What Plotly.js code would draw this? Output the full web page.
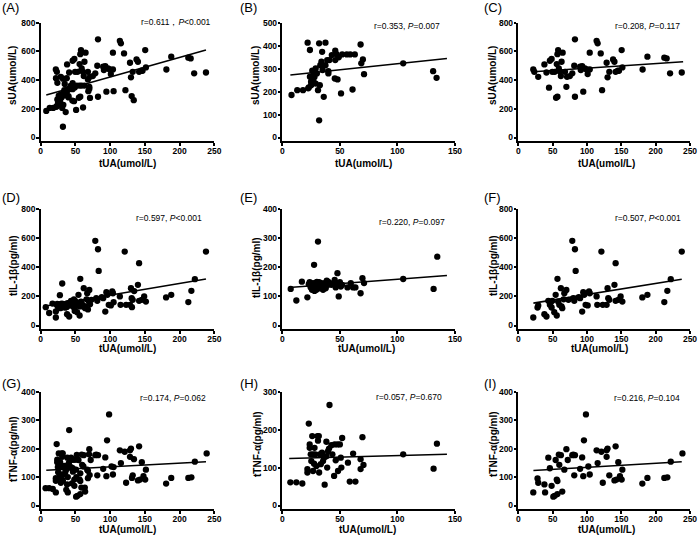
<!DOCTYPE html>
<html><head><meta charset="utf-8">
<script src="https://cdn.plot.ly/plotly-3.0.1.min.js"></script>
<style>html,body{margin:0;padding:0;background:#fff}#chart{width:700px;height:537px}</style>
</head><body><div id="chart"></div>
<script>
// ---- Data ----
// Group 1 (panels B, E, H)
const tUA_B = [8,13,18,22,24,23,22.5,24,25,26,27,27.4,28,29,30,31,32,32,32.6,33,34,34.6,36,37.5,37.5,39,40,41,40,45.6,46,47,48,49,51,52,56,59,61,63,68,68.6,70,71,105,131,134,35,29,25,46,43];
const sUA_B = [185,206,206,413,381,218,214,265,243,291,250,279,265,301,279,206,410,75,228,315,330,373,177,413,315,337,289,337,279,257,337,363,253,349,192,362,362,362,209,362,405,323,340,276,323,289,260,294,235,228,378,359];
const tUA_E = [7.3,12.2,17,21.8,23,23.8,24.7,25.8,26.7,27.6,28,29,29.6,31,31,32,32.5,33.4,34,35.4,36.3,36.8,37.7,38.6,39.7,41,42.6,45.5,46.4,47.9,48.4,49,50,50.8,52,56.6,59.5,61.5,63.5,68,69.6,71,105,131.4,134.6,44.4,26,30,34,40,27,35];
const IL_E = [126,86,151,97,142,149,131,123,146,209,119,134,123,289,142,149,128,138,146,123,134,146,128,154,140,146,140,157,131,180,146,100,149,134,140,131,146,131,131,111,163,146,160,126,237,146,135,150,130,150,140,138];
const tUA_H = [7,12.2,17.4,23,21.8,21.8,23.8,23.8,24.7,25.2,26,26.7,26.7,27.6,28,28.7,29.6,30.6,31,31.7,32,32.5,33.4,34.5,35.4,36.3,36.8,38.3,38.3,39,39.7,40.6,41,42.6,43.5,45,45.5,46.4,48,48.4,50,50.8,51.3,52,57,58.6,61.5,63.5,68,68,69.6,70.5,105,131.4,134.3];
const TNF_H = [61,61,58,216,87,96,161,152,135,117,183,135,91,110,152,135,104,183,171,183,87,135,109,139,117,126,55,130,168,100,143,150,265,159,135,78,161,119,161,91,161,126,100,178,113,63,137,63,122,96,180,107,135,97,163];
// Group 2 (panels C, F, I)
const tUA_C = [21.8,23.3,29,38,41,44.7,46,48.5,49.5,53,56,57,58,60.7,59,55,57,62,63,64.6,68,71,70,75,78.6,82.5,81.5,82.5,90,91,93,94.6,97,99.5,101,104,104,114,115.5,120,122,128.6,130,132.5,138,140,141.7,145,146.6,150.5,151.5,181,188,212.6,216,221,238];
const sUA_C = [474,458,423,509,453,347,535,547,458,458,512,581,609,458,481,277,284,428,528,591,458,423,353,428,447,684,500,284,493,470,498,319,481,474,442,591,474,674,656,586,330,521,419,458,544,528,458,465,465,609,488,474,563,556,551,447,453];
const tUA_F = [21.8,28,29,38,41,43.7,46,48.5,49.5,52.4,54.4,56,57,58,59.7,62,63,64,67,70,73,78.6,80,81.5,82.5,83.5,90,93,94.6,96,98,101,103,104,114,115,121,123,128.6,130,131,132.5,140,141.7,141.7,145.6,149,151.5,180.6,188,212.6,217,222,238,66,47,88];
const IL_F = [55,124,138,78,62,170,142,124,170,92,211,69,321,165,142,257,131,119,222,245,177,583,188,170,525,376,188,96,229,211,142,138,234,222,200,142,509,142,142,257,188,177,280,429,170,177,200,165,193,211,161,239,319,509,180,158,195];
const tUA_I = [21.8,28,29,38,39,43.7,46,48.5,51,53,54.4,56,57,57,59,59.7,62,64,67,70,72,78.6,80,81.5,82.5,90,93,94.6,95.6,98.5,102,104,114,115.5,121,123,128.6,128.6,130,132.5,140,141.7,143,145.6,148,151.5,150.5,180.6,188,212.6,217,222,239];
const TNF_I = [46,95,80,74,46,168,131,69,31,34,160,91,86,40,179,143,177,49,126,198,160,177,179,106,177,129,169,103,229,320,137,109,194,149,189,80,194,171,200,106,88,208,91,152,103,126,91,77,97,97,99,154,183];
// Fitted regression lines (end points)
const fitA_x = [8,238], fitA_y = [296,610];
const fitB_x = [7,143], fitB_y = [272,344];
const fitC_x = [22,240], fitC_y = [458,528];
const fitD_x = [5,238], fitD_y = [133,320];
const fitE_x = [6,143], fitE_y = [131,172];
const fitF_x = [22,238], fitF_y = [154,319];
const fitG_x = [8,238], fitG_y = [124,154];
const fitH_x = [6,143], fitH_y = [124,135];
const fitI_x = [22,238], fitI_y = [123,154];
// Labels
const panelLabels = ['(A)','(B)','(C)','(D)','(E)','(F)','(G)','(H)','(I)'];
const statTexts = ['r=0.611，<i>P</i><0.001','r=0.353, <i>P</i>=0.007','r=0.208, <i>P</i>=0.117',
                   'r=0.597, <i>P</i><0.001','r=0.220, <i>P</i>=0.097','r=0.507, <i>P</i><0.001',
                   'r=0.174, <i>P</i>=0.062','r=0.057, <i>P</i>=0.670','r=0.216, <i>P</i>=0.104'];
const xTitle = 'tUA(umol/L)';
const yTitles = ['sUA(umol/L)','tIL-1β(pg/ml)','tTNF-α(pg/ml)'];
const xMaxes = [250,150,250];
const yMaxes = [[800,500,800],[800,400,800],[400,300,400]];
const yDtick = [[200,100,200],[200,100,200],[100,100,100]];

// pooled panels = group1 + group2
const panels = [
  {x: tUA_B.concat(tUA_C), y: sUA_B.concat(sUA_C), fx: fitA_x, fy: fitA_y},
  {x: tUA_B, y: sUA_B, fx: fitB_x, fy: fitB_y},
  {x: tUA_C, y: sUA_C, fx: fitC_x, fy: fitC_y},
  {x: tUA_E.concat(tUA_F), y: IL_E.concat(IL_F), fx: fitD_x, fy: fitD_y},
  {x: tUA_E, y: IL_E, fx: fitE_x, fy: fitE_y},
  {x: tUA_F, y: IL_F, fx: fitF_x, fy: fitF_y},
  {x: tUA_H.concat(tUA_I), y: TNF_H.concat(TNF_I), fx: fitG_x, fy: fitG_y},
  {x: tUA_H, y: TNF_H, fx: fitH_x, fy: fitH_y},
  {x: tUA_I, y: TNF_I, fx: fitI_x, fy: fitI_y}
];

// ---- Layout geometry (pixels) ----
const W = 700, H = 537;
const PX = v => v / W, PY = v => 1 - v / H;
const cols = [[40.7,214.3],[282.3,455],[518.3,690]];
// [top (y max), y=0 position, x-axis line]
const rows = [[22.7,137.5,141],[209.3,325.5,329],[391.7,505.5,509]];
const labelPos = [[0,7],[238,7],[482,7],[0,198],[238,198],[482,198],[0,383],[238,383],[482,383]];
const statPos = [[213,22],[442,26],[682,26],[204,218],[447,222],[683,218],[208,398],[444,397],[682,398]];
const yTitlePos = [[13,76],[256,76],[493,76],[13,266],[257,268],[493,266],[13,449],[257,444],[493,444]];
const xTitlePos = [[127.5,163.5],[363,163.5],[606.7,163.5],[127.5,348.5],[366.3,348.5],[599.7,348.5],[127.5,529],[367.3,529],[606.3,529]];

const FONT = 'Liberation Sans, Arial, sans-serif';
const traces = [];
const layout = {
  width: W, height: H, margin: {l:0,r:0,t:0,b:0},
  paper_bgcolor: '#fff', plot_bgcolor: '#fff', showlegend: false,
  font: {family: FONT, color: '#000'}, annotations: []
};

panels.forEach((p, i) => {
  const r = Math.floor(i / 3), c = i % 3;
  const n = i + 1, xa = n === 1 ? 'x' : 'x' + n, ya = n === 1 ? 'y' : 'y' + n;
  const xk = n === 1 ? 'xaxis' : 'xaxis' + n, yk = n === 1 ? 'yaxis' : 'yaxis' + n;
  const ymax = yMaxes[r][c];
  const pxPerUnit = (rows[r][1] - rows[r][0]) / ymax;
  const ymin = -(rows[r][2] - rows[r][1]) / pxPerUnit;
  traces.push({type:'scatter', mode:'markers', x:p.x, y:p.y, xaxis:xa, yaxis:ya,
    marker:{color:'#000', size:6.3}, hoverinfo:'none'});
  traces.push({type:'scatter', mode:'lines', x:p.fx, y:p.fy, xaxis:xa, yaxis:ya,
    line:{color:'#000', width:1.6}, hoverinfo:'none'});
  const axBase = {showline:true, linecolor:'#000', linewidth:2, ticks:'outside', ticklen:2.5,
    tickwidth:2, tickcolor:'#000', showgrid:false, zeroline:false, fixedrange:true,
    tickfont:{family:FONT, size:8.5, color:'#000', weight:'bold'}};
  layout[xk] = Object.assign({}, axBase, {domain:[PX(cols[c][0]), PX(cols[c][1])],
    range:[0, xMaxes[c]], tick0:0, dtick:50, anchor: ya, ticklabelstandoff: -2});
  layout[yk] = Object.assign({}, axBase, {domain:[PY(rows[r][2]), PY(rows[r][0])],
    range:[ymin, ymax], tickmode:'linear', tick0:0, dtick:yDtick[r][c], anchor: xa, ticklabelstandoff: -1});
  layout.annotations.push({xref:'paper', yref:'paper', x:PX(labelPos[i][0]), y:PY(labelPos[i][1]),
    xanchor:'left', yanchor:'middle', text:panelLabels[i], showarrow:false,
    font:{family:FONT, size:13, color:'#000'}});
  layout.annotations.push({xref:'paper', yref:'paper', x:PX(statPos[i][0]), y:PY(statPos[i][1]),
    xanchor:'right', yanchor:'middle', text:statTexts[i], showarrow:false,
    font:{family:FONT, size:8.5, color:'#000'}});
  layout.annotations.push({xref:'paper', yref:'paper', x:PX(yTitlePos[i][0]), y:PY(yTitlePos[i][1]),
    xanchor:'center', yanchor:'middle', text:yTitles[r], textangle:-90, showarrow:false,
    font:{family:FONT, size:10, color:'#000', weight:'bold'}});
  layout.annotations.push({xref:'paper', yref:'paper', x:PX(xTitlePos[i][0]), y:PY(xTitlePos[i][1]),
    xanchor:'center', yanchor:'middle', text:xTitle, showarrow:false,
    font:{family:FONT, size:10, color:'#000', weight:'bold'}});
});

Plotly.newPlot('chart', traces, layout, {staticPlot:true, displayModeBar:false});
</script></body></html>
